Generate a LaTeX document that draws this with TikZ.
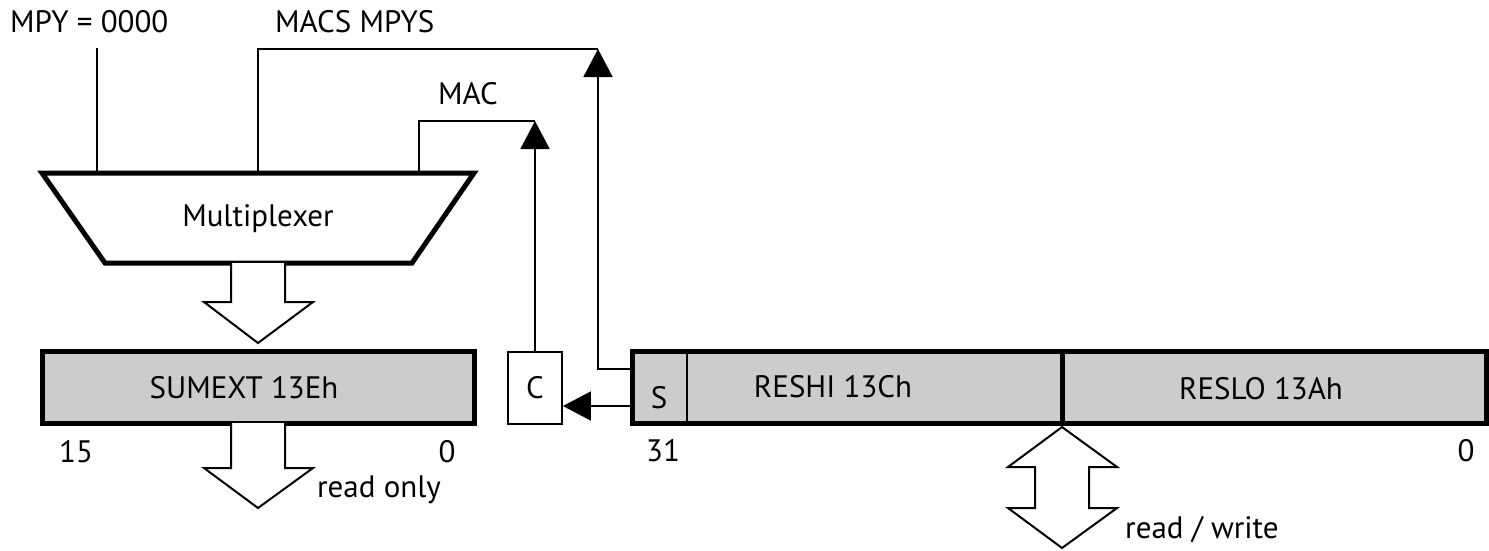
\documentclass[tikz,border=0pt]{standalone}
\usepackage{fontspec}
\setmainfont{PT Sans}
\usepackage{tikz}
\usetikzlibrary{positioning, arrows.meta}
\definecolor{reggray}{HTML}{CCCCCC}
\tikzset{
  txt/.style={inner sep=0pt, font=\fontsize{31}{36}\selectfont},
  reg/.style={draw, line width=5pt, fill=reggray, inner sep=0pt},
  wire/.style={line width=1.8pt},
  sig/.style={line width=1.8pt, -{Triangle[length=28pt,width=29pt]}},
  hollow/.style={line width=2pt, line join=miter}}

\begin{document}
\begin{tikzpicture}[x=1pt,y=-1pt]
\useasboundingbox (0,0) rectangle (1489,550);
	% multiplexer
	\draw [line width=5pt, line join=miter] (42,173) coordinate (muxtl) -- (474,173) coordinate (muxtr)
		-- (412,263) coordinate (muxbr) -- (105,263) coordinate (muxbl) -- cycle;
	\node [txt] (mux) at (258,219) {Multiplexer};
	% registers
	\node [reg, minimum width=432pt, minimum height=72pt] (sumext) at (258,387) {};
	\node [draw, wire, fill=white, minimum width=54pt, minimum height=72pt] (cbox) at (535,388) {};
	\node [reg, minimum width=430pt, minimum height=72pt] (reshi) at (847,387) {};
	\node [reg, minimum width=424pt, minimum height=72pt] (reslo) at (1274,387) {};
	\draw [wire] (687,387) ++(0,-34) coordinate (sdiv) -- (sdiv |- reshi.south);
	\node [txt] (sumexttxt) at (244,388) {SUMEXT 13Eh};
	\node [txt] (ctxt) at (cbox.center) {C};
	\node [txt] (stxt) at (659,398) {S};
	\node [txt] (reshitxt) at (833,387) {RESHI 13Ch};
	\node [txt] (reslotxt) at (1261,389) {RESLO 13Ah};
	% bit numbers
	\node [txt] (b15) at (76,452) {15};
	\node [txt] (b0a) at (447,452) {0};
	\node [txt] (b31) at (663,451) {31};
	\node [txt] (b0b) at (1466,451) {0};
	% control inputs
	\node [txt, anchor=west] (mpy) at (10,22) {MPY = 0000};
	\node [txt, anchor=west] (macs) at (275,22) {MACS MPYS};
	\node [txt] (mac) at (468,94) {MAC};
	\coordinate (mpyin) at (97,48);
	\coordinate (macsin) at (598,49);
	\coordinate (macin) at (535,121);
	\coordinate (stap) at (632,369);
	\coordinate (sout) at (632,406);
	\draw [wire] (mpyin) -- (mpyin |- muxtl);
	\draw [wire] (258,173) |- (macsin);
	\draw [wire] (419,173) |- (macin);
	\draw [sig] (stap) -| (macsin);
	\draw [sig] (cbox.north) -- (macin);
	\draw [sig] (sout) -- (sout -| cbox.east);
	% data paths
	\draw [hollow, fill=white] (231,263) -- (231,302) -- (204,302) -- (258,343) -- (313,302) -- (285,302) -- (285,263);
	\draw [hollow, fill=white] (231,423) -- (231,468) -- (204,468) -- (258,508) -- (313,468) -- (285,468) -- (285,423);
	\draw [hollow, fill=white] (1062,427) -- (1117,467) -- (1089,467) -- (1089,508) -- (1117,508) -- (1062,548)
		-- (1008,508) -- (1035,508) -- (1035,467) -- (1008,467) -- cycle;
	\node [txt, anchor=west] (ro) at (317,490) {read only};
	\node [txt, anchor=west] (rw) at (1125,530) {read / write};
\end{tikzpicture}
\end{document}
